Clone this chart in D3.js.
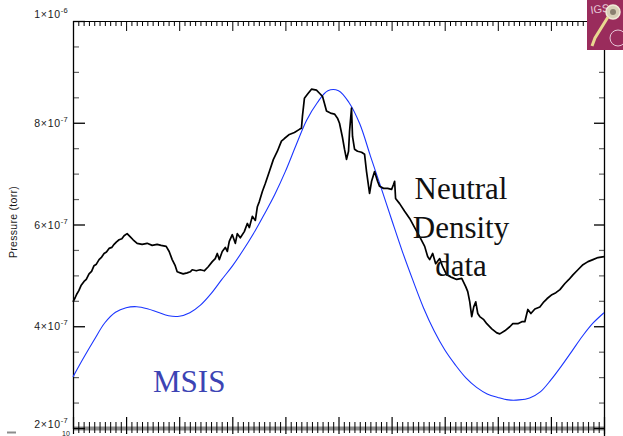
<!DOCTYPE html>
<html><head><meta charset="utf-8">
<script src="https://cdn.jsdelivr.net/npm/d3@7"></script>
<style>body{margin:0;background:#fff}svg{display:block}</style>
</head><body>
<script>
// time axis in arbitrary units (0..100), pressure in units of 1e-7 torr
const msisX = d3.range(0, 101, 2);
const msisP = [3.005,3.379,3.734,4.069,4.276,4.365,4.384,4.345,4.276,4.207,4.197,4.266,4.414,4.640,4.916,5.182,5.488,5.823,6.197,6.591,7.044,7.557,8.049,8.394,8.631,8.631,8.394,7.980,7.350,6.729,6.099,5.478,4.906,4.365,3.911,3.537,3.241,2.985,2.798,2.670,2.601,2.552,2.552,2.591,2.709,2.946,3.222,3.517,3.813,4.069,4.266];
const dataX = [0,0.4,0.75,1.1,1.51,2.08,2.5,3.02,3.5,3.96,4.4,4.91,5.4,5.85,6.3,6.79,7.3,7.74,8.2,8.68,9.2,9.62,10.19,10.75,11.32,12.08,13.02,13.96,14.91,15.85,16.6,17.55,18.11,18.68,19.25,19.62,20.19,20.75,21.51,22.08,22.45,23.21,23.96,24.72,25.47,26.23,26.79,27.17,27.55,28.11,28.68,29.06,29.43,30,30.57,30.94,31.51,32.26,32.83,33.21,33.77,34.34,34.72,35.09,35.66,36.23,36.98,37.74,38.49,39.25,39.81,40.75,41.7,42.64,43.02,43.21,43.58,44.15,44.91,45.85,46.42,46.98,47.36,47.74,48.49,49.25,49.81,50.19,50.75,51.13,51.51,51.89,52.08,52.45,52.64,53.02,53.58,54.34,54.91,55.28,55.85,56.23,56.79,57.36,57.74,58.49,59.25,60,60.38,60.57,60.75,61.51,62.45,63.4,64.34,65.28,66.23,66.79,67.17,67.74,68.3,69.06,69.62,70.38,71.32,72.26,73.21,73.96,74.34,74.72,75.09,75.47,75.85,76.23,76.6,77.36,77.92,78.87,79.81,80.38,81.32,82.26,82.83,83.77,84.53,85.09,85.47,85.66,86.23,86.98,87.92,88.68,89.25,90.19,90.94,91.7,92.64,93.4,94.15,95.09,96.04,96.98,97.92,98.87,100];
const dataP = [4.48,4.56,4.64,4.70,4.80,4.88,4.92,5.03,5.08,5.19,5.22,5.31,5.36,5.43,5.46,5.53,5.55,5.61,5.66,5.70,5.72,5.78,5.82,5.76,5.70,5.63,5.61,5.63,5.59,5.61,5.59,5.57,5.47,5.31,5.19,5.07,5.05,5.03,5.05,5.07,5.11,5.09,5.11,5.09,5.17,5.27,5.33,5.43,5.31,5.47,5.55,5.47,5.67,5.80,5.63,5.82,5.74,5.86,6.02,5.94,6.16,6.08,6.35,6.45,6.65,6.81,7.04,7.28,7.44,7.64,7.69,7.77,7.81,7.87,7.89,8.13,8.48,8.56,8.66,8.64,8.58,8.52,8.38,8.23,8.19,8.17,8.09,7.99,7.71,7.48,7.28,7.44,7.83,8.29,7.73,7.48,7.44,7.42,7.38,7.04,6.61,6.85,7.04,6.85,6.75,6.71,6.71,6.69,6.79,6.85,6.51,6.41,6.26,6.12,5.94,5.76,5.57,5.37,5.31,5.43,5.23,5.33,5.17,5.01,4.96,4.92,4.94,4.78,4.68,4.48,4.19,4.38,4.48,4.25,4.19,4.13,4.05,3.95,3.87,3.85,3.91,3.99,4.05,4.05,4.09,4.09,4.25,4.33,4.25,4.34,4.38,4.48,4.54,4.62,4.66,4.72,4.84,4.92,5.01,5.11,5.21,5.27,5.31,5.35,5.37];
const yTickValues = [2e-7, 4e-7, 6e-7, 8e-7, 1e-6];
const yTickMant = ["2", "4", "6", "8", "1"];
const yTickExp = ["-7", "-7", "-7", "-7", "-6"];
const yTitle = "Pressure (torr)";
const noteLines = ["Neutral", "Density", "data"];
const msisLabel = "MSIS";
const xFirstLabel = "10";
const UNIT = 1e-7;

const W = 623, H = 436;
const svg = d3.select("body").append("svg").attr("width", W).attr("height", H);
const x = d3.scaleLinear().domain([0, 100]).range([73, 604]);
const y = d3.scaleLinear().domain([2e-7, 1e-6]).range([428, 21]);

const xMinor = d3.range(0, 101, 1).filter(d => d % 10 !== 0);
const xMajor = d3.range(0, 101, 10);
const yMinor = d3.range(2, 10.01, 0.5).map(d => d * UNIT).filter(d => !yTickValues.some(v => Math.abs(v - d) < 1e-12));

function styleAxis(g, color, w) {
  g.select(".domain").remove();
  g.selectAll("line").attr("stroke", color).attr("stroke-width", w);
  g.selectAll("text").remove();
}

// gray band under bottom axis
svg.append("line").attr("x1", 73).attr("x2", 605).attr("y1", 428.5).attr("y2", 428.5)
  .attr("stroke", "#8c8c8c").attr("stroke-width", 4);

// bottom axis ticks (up and down)
svg.append("g").attr("transform", "translate(0,428)")
  .call(d3.axisTop(x).tickValues(xMinor).tickSize(6).tickFormat(""))
  .call(g => styleAxis(g, "#000", 1));
svg.append("g").attr("transform", "translate(0,428)")
  .call(d3.axisTop(x).tickValues(xMajor).tickSize(11).tickFormat(""))
  .call(g => styleAxis(g, "#000", 1.2));
svg.append("g").attr("transform", "translate(0,428)")
  .call(d3.axisBottom(x).tickValues(xMinor).tickSize(5).tickFormat(""))
  .call(g => styleAxis(g, "#000", 1));
svg.append("g").attr("transform", "translate(0,428)")
  .call(d3.axisBottom(x).tickValues(xMajor).tickSize(6).tickFormat(""))
  .call(g => styleAxis(g, "#000", 1.2));

// top axis
svg.append("g").attr("transform", "translate(0,21)")
  .call(d3.axisBottom(x).tickValues(xMinor).tickSize(5).tickFormat(""))
  .call(g => styleAxis(g, "#000", 1));
svg.append("g").attr("transform", "translate(0,21)")
  .call(d3.axisBottom(x).tickValues(xMajor).tickSize(10).tickFormat(""))
  .call(g => styleAxis(g, "#000", 1));
svg.append("line").attr("x1", 73).attr("x2", 604).attr("y1", 21.5).attr("y2", 21.5).attr("stroke", "#000").attr("stroke-width", 1.2);

// left axis
svg.append("g").attr("transform", "translate(73,0)")
  .call(d3.axisRight(y).tickValues(yMinor).tickSize(6).tickFormat(""))
  .call(g => styleAxis(g, "#666", 1.2));
svg.append("g").attr("transform", "translate(73,0)")
  .call(d3.axisRight(y).tickValues(yTickValues).tickSize(12).tickFormat(""))
  .call(g => styleAxis(g, "#000", 1.3));
svg.append("line").attr("x1", 73.5).attr("x2", 73.5).attr("y1", 21).attr("y2", 429).attr("stroke", "#000").attr("stroke-width", 1.3);

// right axis
svg.append("g").attr("transform", "translate(604,0)")
  .call(d3.axisLeft(y).tickValues(yMinor).tickSize(5).tickFormat(""))
  .call(g => styleAxis(g, "#666", 1.2));
svg.append("g").attr("transform", "translate(604,0)")
  .call(d3.axisLeft(y).tickValues(yTickValues).tickSize(10).tickFormat(""))
  .call(g => styleAxis(g, "#000", 1.3));
svg.append("line").attr("x1", 604.5).attr("x2", 604.5).attr("y1", 21).attr("y2", 436).attr("stroke", "#000").attr("stroke-width", 1.3);

// y tick labels (edge labels nudged inward like the original)
const lab = svg.append("g").attr("font-family", "Liberation Sans, Arial, sans-serif").attr("fill", "#1a1a1a");
yTickValues.forEach((v, i) => {
  const off = i === yTickValues.length - 1 ? -3 : (i === 0 ? 0 : 4);
  const t = lab.append("text").attr("x", 68).attr("y", y(v) + off).attr("text-anchor", "end")
    .attr("font-size", 10.5).attr("letter-spacing", 0.7);
  t.append("tspan").text(yTickMant[i] + "\u00d710");
  t.append("tspan").attr("dy", -5).attr("font-size", 7.5).attr("letter-spacing", 0.3).text(yTickExp[i]);
});
// y title
lab.append("text").attr("transform", "translate(17,222) rotate(-90)").attr("text-anchor", "middle")
  .attr("font-size", 10.5).attr("letter-spacing", 0.3).text(yTitle);
// first bottom label, mostly hidden under the axis band
lab.append("text").attr("x", 66).attr("y", 436).attr("text-anchor", "middle").attr("font-size", 7).text(xFirstLabel);
// small dash bottom-left
svg.append("line").attr("x1", 7).attr("x2", 16).attr("y1", 432.5).attr("y2", 432.5).attr("stroke", "#8c8c8c").attr("stroke-width", 2);

// curves
svg.append("path")
  .attr("d", d3.line().curve(d3.curveCatmullRom).x((d, i) => x(msisX[i])).y(d => y(d * UNIT))(msisP))
  .attr("fill", "none").attr("stroke", "#1a35ff").attr("stroke-width", 1.1);
svg.append("path")
  .attr("d", d3.line().x((d, i) => x(dataX[i])).y(d => y(d * UNIT))(dataP))
  .attr("fill", "none").attr("stroke", "#000").attr("stroke-width", 1.7).attr("stroke-linejoin", "round");

// annotations
const ann = svg.append("g").attr("font-family", "Liberation Serif, Times New Roman, serif").attr("font-size", 31).attr("text-anchor", "middle");
noteLines.forEach((s, i) => ann.append("text").attr("x", 461).attr("y", 199 + i * 38.5).attr("fill", "#111").text(s));
svg.append("text").attr("x", 153).attr("y", 392).attr("font-family", "Liberation Serif, Times New Roman, serif")
  .attr("font-size", 31).attr("fill", "#3c44b4").text(msisLabel);

// logo
const logo = svg.append("g").attr("transform", "translate(587,0)");
logo.append("rect").attr("width", 36).attr("height", 50).attr("fill", "#9a2c5c");
logo.append("text").attr("x", 4).attr("y", 14).attr("font-family", "Liberation Sans, Arial, sans-serif").attr("font-size", 11)
  .attr("fill", "#e8c8d8").attr("transform", "rotate(-8,4,14)").text("IGS");
logo.append("circle").attr("cx", 26).attr("cy", 12).attr("r", 7).attr("fill", "#d8d0b8").attr("stroke", "#f0ead8").attr("stroke-width", 1.5);
logo.append("circle").attr("cx", 26).attr("cy", 12).attr("r", 3).attr("fill", "#8a8070");
logo.append("path").attr("d", "M21,17 L8,38 L5,46").attr("stroke", "#e8d890").attr("stroke-width", 3).attr("fill", "none");
logo.append("circle").attr("cx", 31).attr("cy", 38).attr("r", 8).attr("fill", "none").attr("stroke", "#e8c8d8").attr("stroke-width", 1);
</script>
</body></html>
